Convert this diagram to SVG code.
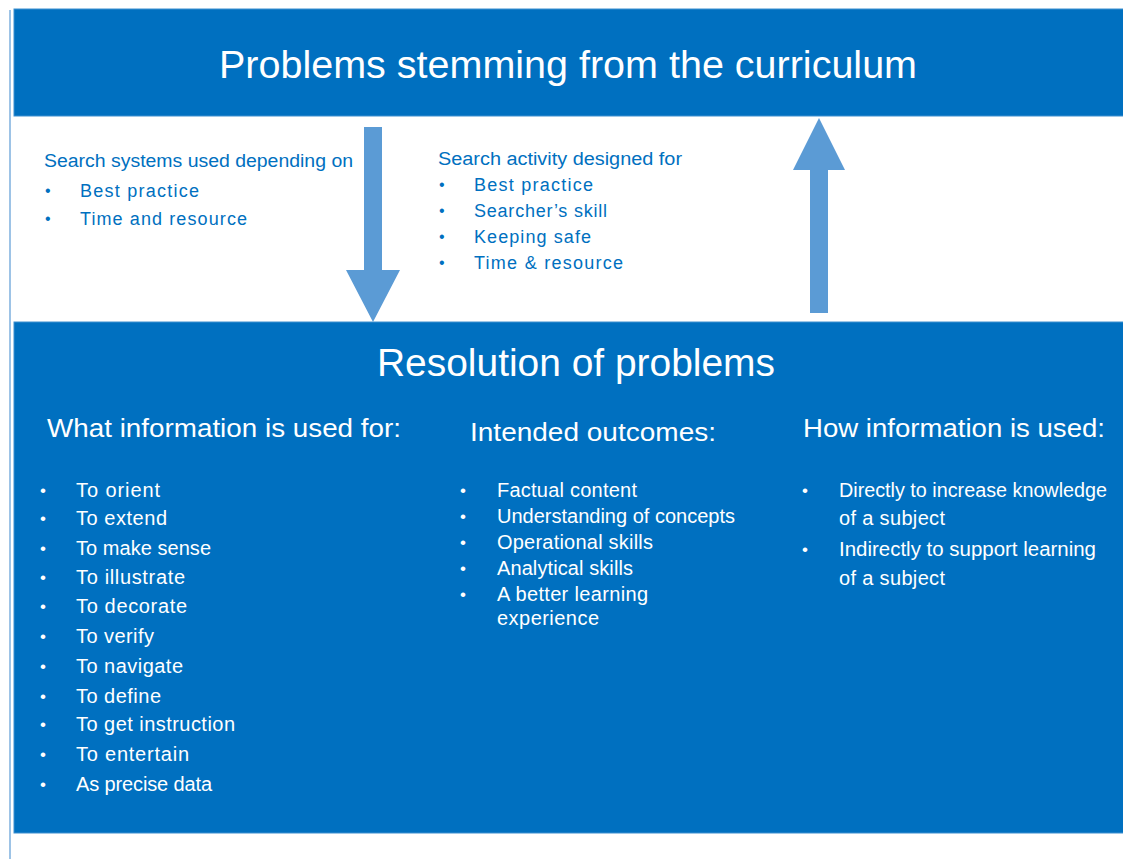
<svg xmlns="http://www.w3.org/2000/svg" width="1123" height="859" viewBox="0 0 1123 859">
<style>
.box{fill:#0070C0;stroke:#3D8FD0;stroke-width:1}
.arrow{fill:#5B9BD5}
text{font-family:"Liberation Sans",Arial,sans-serif}
.title{fill:#fff;font-size:38px}
.head{fill:#fff;font-size:26px}
.item{fill:#fff;font-size:20px}
.blue{fill:#0070C0;font-size:18px}
.bw{fill:#fff;font-size:17px}
.bb{fill:#0070C0;font-size:16px}
</style>
<rect width="1123" height="859" fill="#fff"/>
<line x1="10" y1="10" x2="10" y2="859" stroke="#9DC3E6" stroke-width="2"/>

<g id="curriculum">
<rect class="box" x="14" y="9" width="1115" height="107"/>
<text class="title" x="219" y="78" textLength="698" lengthAdjust="spacingAndGlyphs">Problems stemming from the curriculum</text>
</g>

<g id="search-systems">
<text class="blue" x="44" y="167" textLength="309" lengthAdjust="spacingAndGlyphs">Search systems used depending on</text>
<text class="bb" x="45" y="196">•</text><text class="blue" x="80" y="197" textLength="119">Best practice</text>
<text class="bb" x="45" y="224">•</text><text class="blue" x="80" y="225" textLength="167">Time and resource</text>
</g>

<g id="search-activity">
<text class="blue" x="438" y="165" textLength="244" lengthAdjust="spacingAndGlyphs">Search activity designed for</text>
<text class="bb" x="439" y="190">•</text><text class="blue" x="474" y="191" textLength="119">Best practice</text>
<text class="bb" x="439" y="216">•</text><text class="blue" x="474" y="217" textLength="133">Searcher’s skill</text>
<text class="bb" x="439" y="242">•</text><text class="blue" x="474" y="243" textLength="117">Keeping safe</text>
<text class="bb" x="439" y="268">•</text><text class="blue" x="474" y="269" textLength="149">Time &amp; resource</text>
</g>

<g id="connectors">
<polygon class="arrow" points="364,127 382,127 382,270 400,270 373,322 346,270 364,270"/>
<polygon class="arrow" points="810,313 828,313 828,170 845,170 819,118 793,170 810,170"/>
</g>

<g id="resolution">
<rect class="box" x="14" y="322" width="1115" height="511"/>
<text class="title" x="377" y="376" textLength="398" lengthAdjust="spacingAndGlyphs">Resolution of problems</text>
</g>

<g id="what-information">
<text class="head" x="47" y="437" textLength="354" lengthAdjust="spacingAndGlyphs">What information is used for:</text>
<text class="bw" x="40" y="496">•</text><text class="item" x="76" y="497" textLength="84">To orient</text>
<text class="bw" x="40" y="524">•</text><text class="item" x="76" y="525" textLength="91">To extend</text>
<text class="bw" x="40" y="554">•</text><text class="item" x="76" y="555" textLength="135">To make sense</text>
<text class="bw" x="40" y="583">•</text><text class="item" x="76" y="584" textLength="109">To illustrate</text>
<text class="bw" x="40" y="612">•</text><text class="item" x="76" y="613" textLength="111">To decorate</text>
<text class="bw" x="40" y="642">•</text><text class="item" x="76" y="643" textLength="78">To verify</text>
<text class="bw" x="40" y="672">•</text><text class="item" x="76" y="673" textLength="107">To navigate</text>
<text class="bw" x="40" y="702">•</text><text class="item" x="76" y="703" textLength="85">To define</text>
<text class="bw" x="40" y="730">•</text><text class="item" x="76" y="731" textLength="159">To get instruction</text>
<text class="bw" x="40" y="760">•</text><text class="item" x="76" y="761" textLength="113">To entertain</text>
<text class="bw" x="40" y="790">•</text><text class="item" x="76" y="791" textLength="136">As precise data</text>
</g>

<g id="intended-outcomes">
<text class="head" x="470" y="441" textLength="246" lengthAdjust="spacingAndGlyphs">Intended outcomes:</text>
<text class="bw" x="460" y="496">•</text><text class="item" x="497" y="497" textLength="140">Factual content</text>
<text class="bw" x="460" y="522">•</text><text class="item" x="497" y="523" textLength="238" lengthAdjust="spacingAndGlyphs">Understanding of concepts</text>
<text class="bw" x="460" y="548">•</text><text class="item" x="497" y="549" textLength="156">Operational skills</text>
<text class="bw" x="460" y="574">•</text><text class="item" x="497" y="575" textLength="136">Analytical skills</text>
<text class="bw" x="460" y="600">•</text><text class="item" x="497" y="601" textLength="151">A better learning</text>
<text class="item" x="497" y="625" textLength="102">experience</text>
</g>

<g id="how-information">
<text class="head" x="803" y="437" textLength="302" lengthAdjust="spacingAndGlyphs">How information is used:</text>
<text class="bw" x="802" y="496">•</text><text class="item" x="839" y="497" textLength="268" lengthAdjust="spacingAndGlyphs">Directly to increase knowledge</text>
<text class="item" x="839" y="525" textLength="106">of a subject</text>
<text class="bw" x="802" y="555">•</text><text class="item" x="839" y="556" textLength="257" lengthAdjust="spacingAndGlyphs">Indirectly to support learning</text>
<text class="item" x="839" y="585" textLength="106">of a subject</text>
</g>
</svg>
